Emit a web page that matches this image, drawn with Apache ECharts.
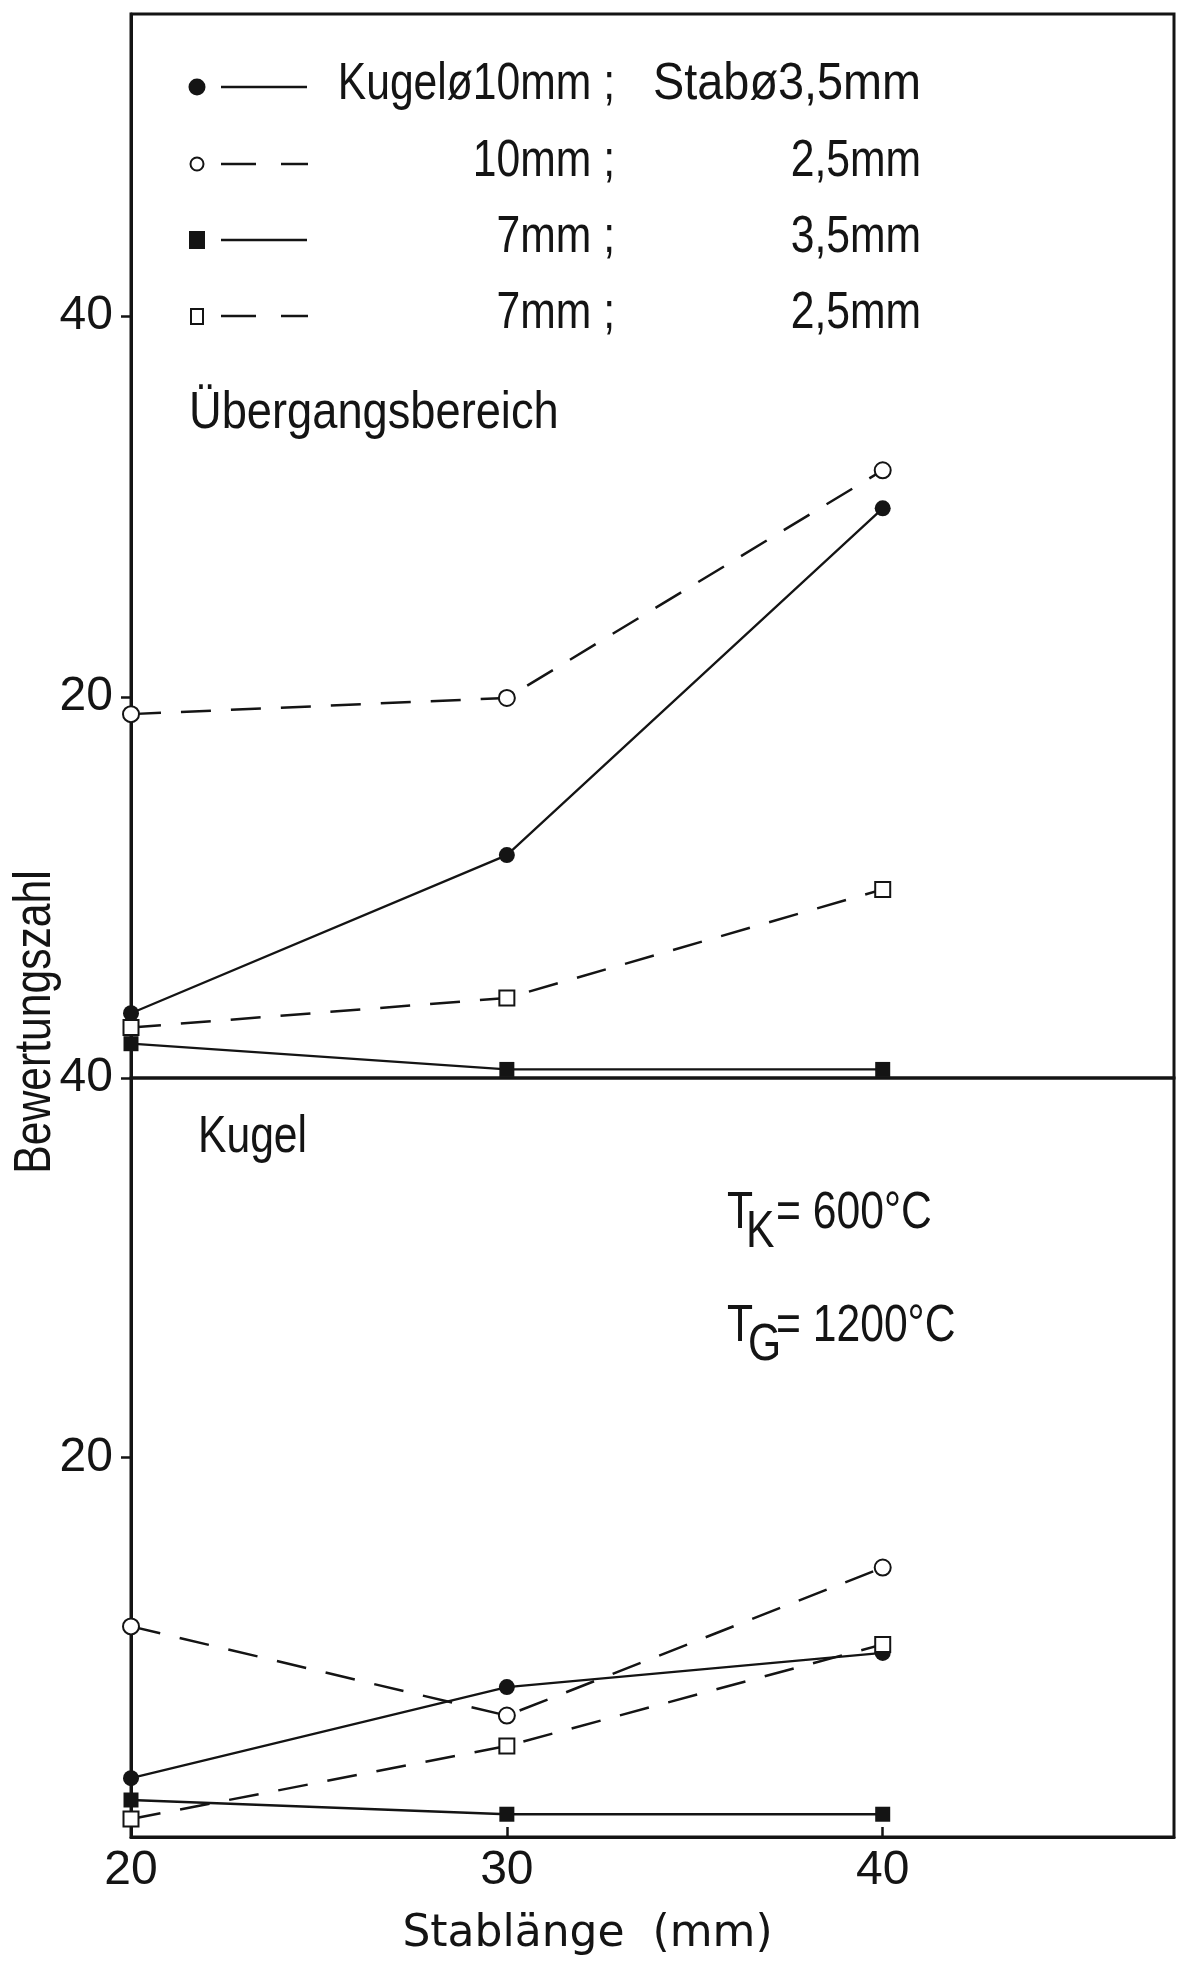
<!DOCTYPE html>
<html>
<head>
<meta charset="utf-8">
<script src="https://cdn.jsdelivr.net/npm/echarts@6/dist/echarts.min.js"></script>
<style>
html,body{margin:0;padding:0;background:#fff;}
#chart{width:1186px;height:1981px;}
</style>
</head>
<body>
<div id="chart"></div>
<script>
// ---------------- data ----------------
const stabLaenge = [20, 30, 40];                 // x values (mm)
const xTickValues = [20, 30, 40];
const yTickValues = [20, 40];

// upper panel: Übergangsbereich
const ueb_K10_S35 = [3.4, 11.7, 29.9];
const ueb_K10_S25 = [19.1, 19.95, 31.9];
const ueb_K7_S35  = [1.8, 0.45, 0.45];
const ueb_K7_S25  = [2.65, 4.2, 9.9];

// lower panel: Kugel
const kug_K10_S35 = [3.1, 7.9, 9.7];
const kug_K10_S25 = [11.1, 6.4, 14.2];
const kug_K7_S35  = [1.95, 1.2, 1.2];
const kug_K7_S25  = [0.95, 4.8, 10.15];

const seriesNames = [
  'Kugel ø10mm; Stab ø3,5mm',
  'Kugel ø10mm; Stab ø2,5mm',
  'Kugel ø7mm; Stab ø3,5mm',
  'Kugel ø7mm; Stab ø2,5mm'
];
const legendCol1 = ['Kugelø10mm ;', '10mm ;', '7mm ;', '7mm ;'];
const legendCol2 = ['Stabø3,5mm', '2,5mm', '3,5mm', '2,5mm'];
const panelTitles = ['Übergangsbereich', 'Kugel'];
const xAxisName = 'Stablänge  (mm)';
const yAxisName = 'Bewertungszahl';
const condK = ['T', 'K', '= 600°C'];
const condG = ['T', 'G', '= 1200°C'];

// ---------------- styles ----------------
const INK = '#141414';
const FONT = '"Liberation Sans", Arial, sans-serif';
const FS = 52;          // graphic text size (condensed with scaleX)
const NARROW = 0.82;
const LABEL_FS = 48;    // axis tick labels
const styles = [
  {symbol: 'circle', size: 16, dashed: false},
  {symbol: 'emptyCircle', size: 16, dashed: true},
  {symbol: 'rect', size: 15, dashed: false},
  {symbol: 'emptyRect', size: 15, dashed: true}
];

const upperData = [ueb_K10_S35, ueb_K10_S25, ueb_K7_S35, ueb_K7_S25];
const lowerData = [kug_K10_S35, kug_K10_S25, kug_K7_S35, kug_K7_S25];

function makeSeries(vals, i, gi) {
  const st = styles[i];
  return {
    type: 'line',
    name: seriesNames[i],
    xAxisIndex: gi, yAxisIndex: gi,
    data: stabLaenge.map((x, k) => [x, vals[k]]),
    symbol: st.symbol,
    symbolSize: st.size,
    showAllSymbol: true,
    clip: false,
    itemStyle: {color: INK, borderColor: INK, borderWidth: st.symbol.indexOf('empty') === 0 ? 2 : 0},
    lineStyle: {color: INK, width: st.dashed ? 2.5 : 2.3, type: st.dashed ? [30, 20] : 'solid'},
    emphasis: {disabled: true},
    z: 3
  };
}

const series = [];
upperData.forEach((d, i) => series.push(makeSeries(d, i, 0)));
lowerData.forEach((d, i) => series.push(makeSeries(d, i, 1)));

function txt(text, x, y, opt) {
  opt = opt || {};
  return {
    type: 'text', x: x, y: y, rotation: opt.rotation || 0, scaleX: opt.scaleX || NARROW, z: 10,
    style: {
      text: text,
      font: (opt.size || FS) + 'px ' + FONT,
      fill: INK,
      align: opt.align || 'left', textAlign: opt.align || 'left',
      verticalAlign: 'middle', textVerticalAlign: 'middle'
    }
  };
}

// legend key drawn as graphic
const rowY = [87, 164, 240, 316];
const graphics = [];
rowY.forEach((y, i) => {
  const st = styles[i];
  if (st.symbol === 'circle') graphics.push({type: 'circle', shape: {cx: 197, cy: y, r: 8.5}, style: {fill: INK}});
  if (st.symbol === 'emptyCircle') graphics.push({type: 'circle', shape: {cx: 197, cy: y, r: 6.5}, style: {fill: '#fff', stroke: INK, lineWidth: 2}});
  if (st.symbol === 'rect') graphics.push({type: 'rect', shape: {x: 189, y: y - 9, width: 16, height: 18}, style: {fill: INK}});
  if (st.symbol === 'emptyRect') graphics.push({type: 'rect', shape: {x: 191, y: y - 7, width: 12, height: 15}, style: {fill: '#fff', stroke: INK, lineWidth: 2}});
  if (st.dashed) {
    graphics.push({type: 'line', shape: {x1: 221, y1: y, x2: 256, y2: y}, style: {stroke: INK, lineWidth: 2.5}});
    graphics.push({type: 'line', shape: {x1: 281, y1: y, x2: 308, y2: y}, style: {stroke: INK, lineWidth: 2.5}});
  } else {
    graphics.push({type: 'line', shape: {x1: 221, y1: y, x2: 307, y2: y}, style: {stroke: INK, lineWidth: 2.5}});
  }
  graphics.push(txt(legendCol1[i], 615, y - 2, {align: 'right'}));
  graphics.push(txt(legendCol2[i], 921, y - 2, {align: 'right', scaleX: i === 0 ? 0.9 : NARROW}));
});
graphics.push(txt(panelTitles[0], 189, 414, {scaleX: 0.87}));
graphics.push(txt(panelTitles[1], 198, 1138));
graphics.push(txt(condK[0], 727, 1214));
graphics.push(txt(condK[1], 746, 1233));
graphics.push(txt(condK[2], 776, 1214));
graphics.push(txt(condG[0], 727, 1327));
graphics.push(txt(condG[1], 748, 1346));
graphics.push(txt(condG[2], 776, 1327));
graphics.push(txt(yAxisName, 36, 1022, {align: 'center', rotation: Math.PI / 2}));

const axisLineStyle = {show: true, onZero: false, lineStyle: {color: INK, width: 3}};
const labelStyle = {color: INK, fontSize: LABEL_FS, fontFamily: FONT};

const option = {
  backgroundColor: '#fff',
  animation: false,
  grid: [
    {left: 131, top: 14, width: 1043, height: 1064, show: true, borderColor: INK, borderWidth: 3, backgroundColor: 'rgba(0,0,0,0)'},
    {left: 131, top: 1078, width: 1043, height: 759, show: true, borderColor: INK, borderWidth: 3, backgroundColor: 'rgba(0,0,0,0)'}
  ],
  xAxis: [
    {gridIndex: 0, type: 'value', min: 20, max: 47.75, interval: 10, show: false},
    {
      gridIndex: 1, type: 'value', min: 20, max: 47.75, interval: 10,
      axisLine: axisLineStyle,
      axisTick: {show: true, inside: true, length: 10, lineStyle: {color: INK, width: 2.5}, customValues: xTickValues},
      axisLabel: Object.assign({margin: 10, customValues: xTickValues,
        formatter: v => (xTickValues.indexOf(v) >= 0 ? String(v) : '')}, labelStyle),
      splitLine: {show: false},
      name: xAxisName, nameLocation: 'middle', nameGap: 76,
      nameTextStyle: {color: INK, fontSize: 44, fontFamily: '"DejaVu Sans", sans-serif', padding: [0, 130, 0, 0]}
    }
  ],
  yAxis: [
    {
      gridIndex: 0, type: 'value', min: 0, max: 55.85, interval: 20,
      axisLine: axisLineStyle,
      axisTick: {show: true, inside: false, length: 10, lineStyle: {color: INK, width: 2.5}, customValues: yTickValues},
      axisLabel: Object.assign({margin: 18, customValues: yTickValues,
        formatter: v => (yTickValues.indexOf(v) >= 0 ? String(v) : '')}, labelStyle),
      splitLine: {show: false}
    },
    {
      gridIndex: 1, type: 'value', min: 0, max: 40, interval: 20,
      axisLine: axisLineStyle,
      axisTick: {show: true, inside: false, length: 10, lineStyle: {color: INK, width: 2.5}, customValues: yTickValues},
      axisLabel: Object.assign({margin: 18, customValues: yTickValues,
        formatter: v => (yTickValues.indexOf(v) >= 0 ? String(v) : '')}, labelStyle),
      splitLine: {show: false}
    }
  ],
  graphic: graphics,
  series: series
};

const chart = echarts.init(document.getElementById('chart'), null, {renderer: 'canvas'});
chart.setOption(option);
</script>
</body>
</html>
